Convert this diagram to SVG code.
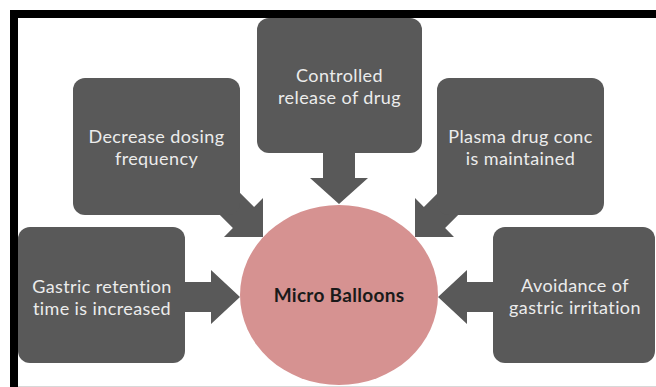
<svg xmlns="http://www.w3.org/2000/svg" width="656" height="387" viewBox="0 0 656 387">
<style>
.box{fill:#595959}
.arr{fill:#595959}
.t{font-family:Lato,"Open Sans","Liberation Sans",sans-serif;font-size:18px;letter-spacing:0.4px;fill:#ececec;text-anchor:middle}
.c{font-family:Lato,"Open Sans","Liberation Sans",sans-serif;font-size:19px;letter-spacing:0.3px;font-weight:bold;fill:#1a1a1a;text-anchor:middle}
</style>
<rect x="0" y="0" width="656" height="387" fill="#ffffff"/>
<rect x="10" y="10" width="646" height="8" fill="#000000"/>
<rect x="10" y="10" width="8" height="377" fill="#000000"/>
<line x1="18" y1="386.5" x2="656" y2="386.5" stroke="#d8d8d8" stroke-width="1"/>
<g id="connectors">
<polygon class="arr" points="323,140 355,140 355,178 368,178 339,204 310,178 323,178"/>
<polygon class="arr" points="214.1,166.9 254.1,206.9 263,198 263,237 224,237 232.9,228.1 192.9,188.1"/>
<polygon class="arr" points="463.9,166.9 423.9,206.9 415,198 415,237 454,237 445.1,228.1 485.1,188.1"/>
<polygon class="arr" points="175,282 211,282 211,270 240,297 211,324 211,312 175,312"/>
<polygon class="arr" points="503,282 467,282 467,270 438,297 467,324 467,312 503,312"/>
</g>
<g id="node-center">
<ellipse cx="339" cy="295" rx="99" ry="90" fill="#d69291"/>
<text class="c" x="339" y="302">Micro Balloons</text>
</g>
<g id="node-top">
<rect class="box" x="257" y="18" width="165" height="135" rx="12"/>
<text class="t" x="339.5" y="82">Controlled</text>
<text class="t" x="339.5" y="104">release of drug</text>
</g>
<g id="node-top-left">
<rect class="box" x="73" y="78" width="167" height="137" rx="12"/>
<text class="t" x="156.5" y="143">Decrease dosing</text>
<text class="t" x="156.5" y="165">frequency</text>
</g>
<g id="node-top-right">
<rect class="box" x="437" y="78" width="167" height="137" rx="12"/>
<text class="t" x="520.5" y="143">Plasma drug conc</text>
<text class="t" x="520.5" y="165">is maintained</text>
</g>
<g id="node-left">
<rect class="box" x="18" y="227" width="167" height="136" rx="12"/>
<text class="t" x="102" y="293">Gastric retention</text>
<text class="t" x="102" y="315">time is increased</text>
</g>
<g id="node-right">
<rect class="box" x="493" y="227" width="162" height="136" rx="12"/>
<text class="t" x="575" y="292">Avoidance of</text>
<text class="t" x="575" y="314">gastric irritation</text>
</g>
</svg>
